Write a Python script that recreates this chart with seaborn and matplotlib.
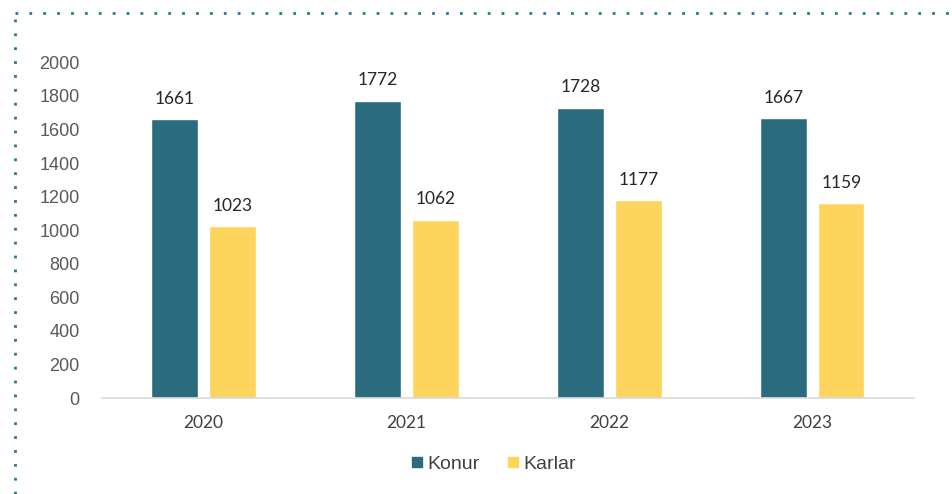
import pandas as pd
import matplotlib.pyplot as plt
import matplotlib.lines as mlines
import seaborn as sns

years = ['2020', '2021', '2022', '2023']
konur = [1661, 1772, 1728, 1667]
karlar = [1023, 1062, 1177, 1159]
series = ['Konur', 'Karlar']
colors = ['#2b6b7e', '#fdd55c']

df = pd.DataFrame({'year': years * 2,
                   'value': konur + karlar,
                   'group': ['Konur'] * 4 + ['Karlar'] * 4})

sns.set_style('white')
plt.rcParams['font.family'] = ['Liberation Sans', 'DejaVu Sans']

fig = plt.figure(figsize=(9.53, 4.94), dpi=100)
ax = fig.add_axes([0.107, 0.194, 0.852, 0.68])

sns.barplot(data=df, x='year', y='value', hue='group', hue_order=series,
            palette=colors, width=0.57, gap=0.2, ax=ax, legend=False,
            saturation=1, errorbar=None)

ax.set_ylim(0, 2000)
ax.set_xlim(-0.5, 3.5)
ax.set_yticks(range(0, 2001, 200))
ax.tick_params(axis='y', labelsize=13, labelcolor='#595959', length=0, pad=16)
ax.tick_params(axis='x', labelsize=12.5, labelcolor='#404040', length=0, pad=12)
for lab in ax.get_xticklabels():
    lab.set_family(['Lato', 'DejaVu Sans'])
ax.set_xlabel('')
ax.set_ylabel('')
for s in ['top', 'right', 'left']:
    ax.spines[s].set_visible(False)
ax.spines['bottom'].set_color('#d9d9d9')
ax.spines['bottom'].set_linewidth(1.2)

for cont in ax.containers:
    ax.bar_label(cont, padding=9, fontsize=12.5, color='#262626',
                 family=['Lato', 'DejaVu Sans'])

handles = [plt.Line2D([], [], marker='s', linestyle='', markersize=7,
                      color=c, label=s) for s, c in zip(series, colors)]
fig.legend(handles=handles, loc='center', bbox_to_anchor=(0.511, 0.06),
           ncol=2, frameon=False, fontsize=14, handletextpad=-0.45,
           columnspacing=0.7, labelcolor='#404040')

# dotted frame (top and left)
dot = dict(color='#2a7a8a', linestyle=(0, (1, 4)), linewidth=2,
           transform=fig.transFigure)
fig.add_artist(mlines.Line2D([0.016, 1.0], [0.974, 0.974], **dot))
fig.add_artist(mlines.Line2D([0.016, 0.016], [0.0, 0.974], **dot))

fig.savefig('out.png', dpi=100)
